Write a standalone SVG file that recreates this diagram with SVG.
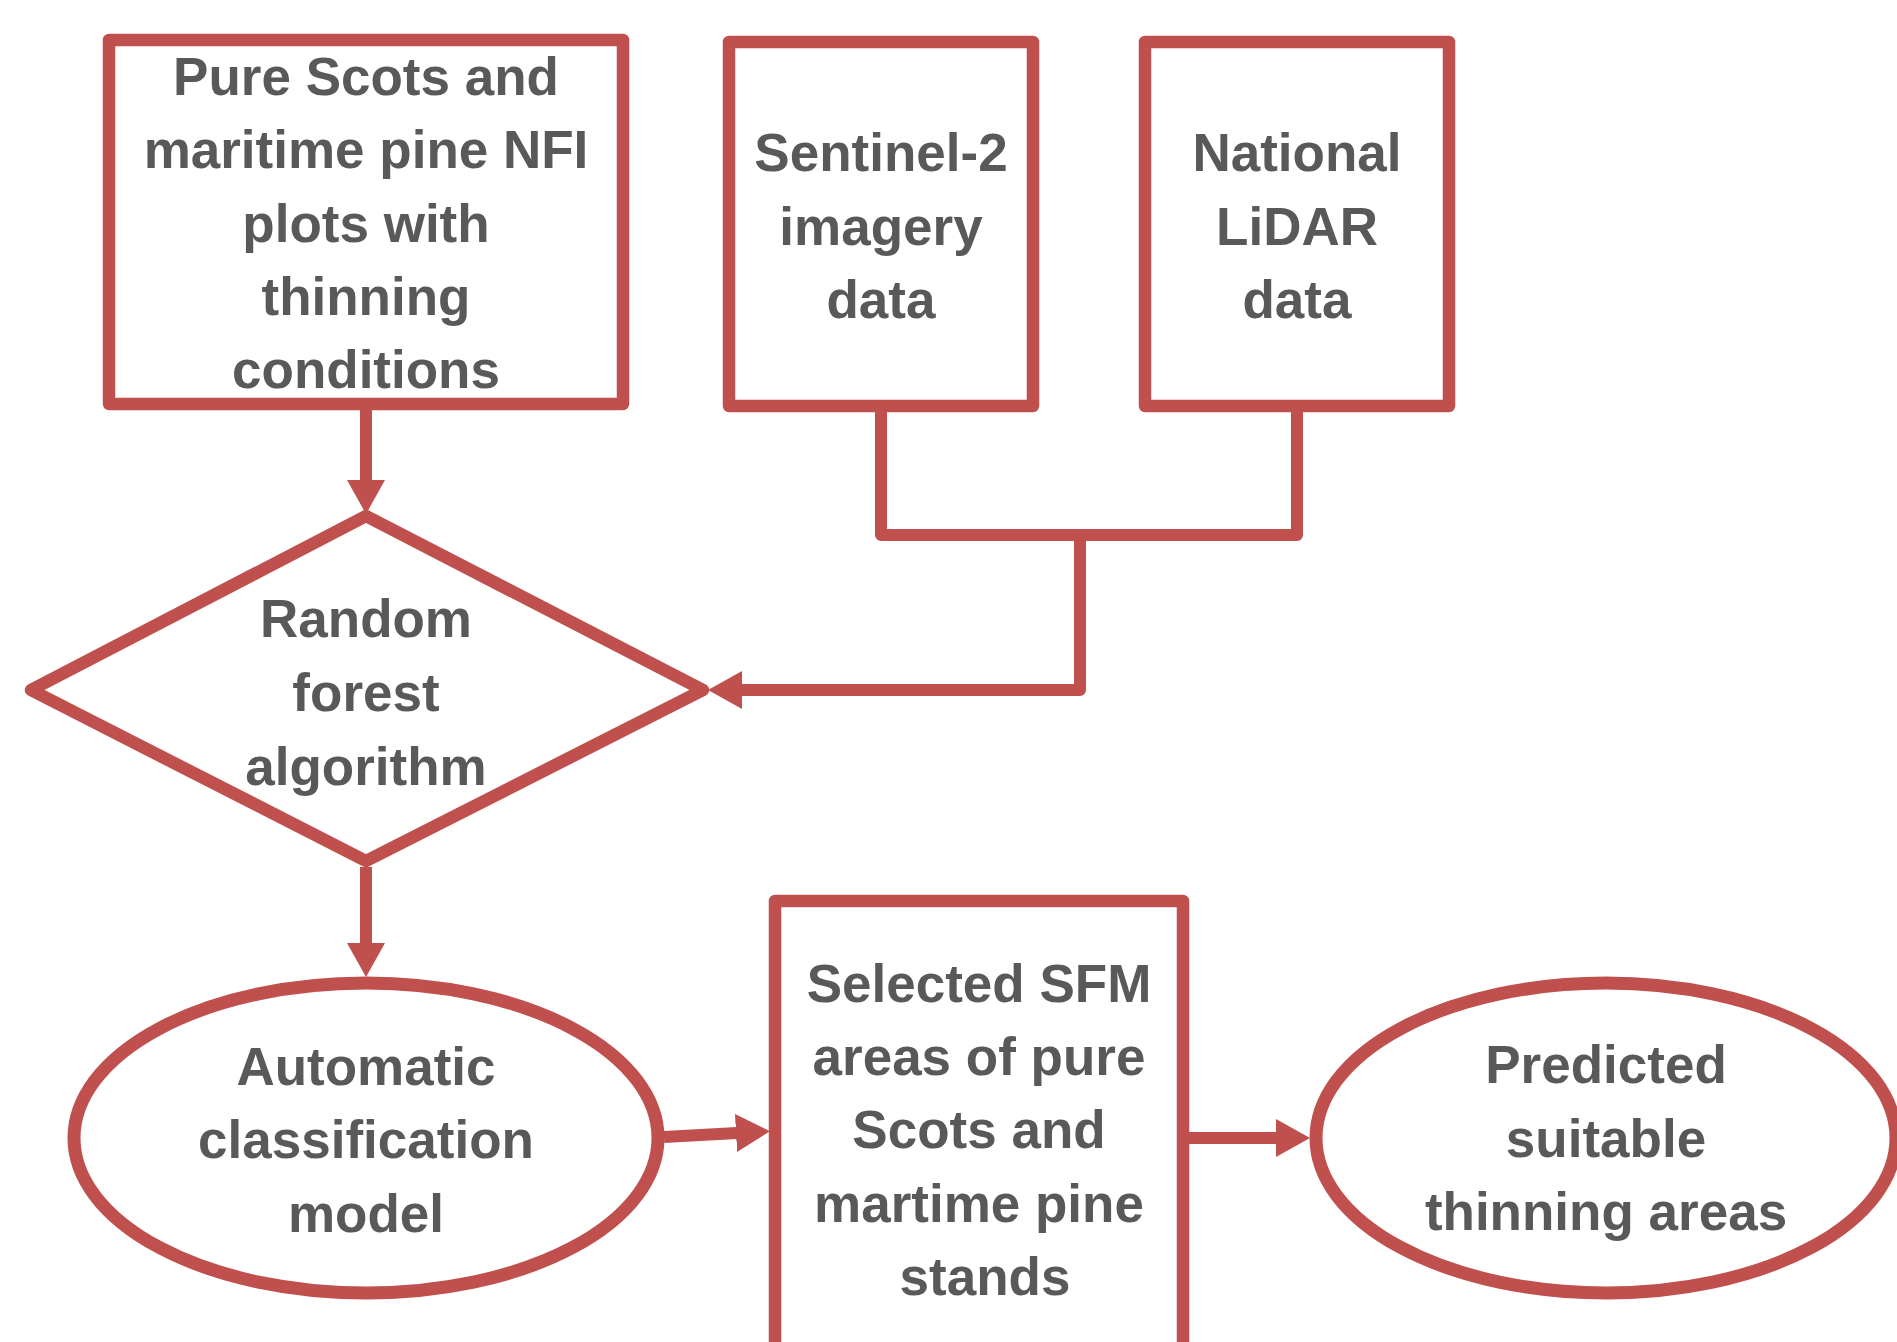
<svg xmlns="http://www.w3.org/2000/svg" width="1897" height="1342" viewBox="0 0 1897 1342">
<style>
.shape{fill:#FFFFFF;stroke:#C0504D;stroke-width:12.5;stroke-linejoin:round}
.dia{fill:#FFFFFF;stroke:#C0504D;stroke-width:12.5;stroke-linejoin:round}
.ell{fill:#FFFFFF;stroke:#C0504D;stroke-width:13}
.conn{fill:none;stroke:#C0504D;stroke-width:12;stroke-linejoin:round;stroke-linecap:butt}
.lbl{font-family:"Liberation Sans",Arial,sans-serif;font-weight:bold;font-size:53px;fill:#595959;text-anchor:middle}
</style>
<defs>
<marker id="ah" viewBox="0 0 34 38" refX="1" refY="19" markerWidth="34" markerHeight="38" markerUnits="userSpaceOnUse" orient="auto">
<path d="M0,0 L34,19 L0,38 Z" fill="#C0504D"/>
</marker>
</defs>
<rect width="1897" height="1342" fill="#FFFFFF"/>
<g id="n1">
<rect class="shape" x="109" y="40" width="514" height="364"/>
<text class="lbl" x="366" y="95">Pure Scots and</text>
<text class="lbl" x="366" y="168">maritime pine NFI</text>
<text class="lbl" x="366" y="242">plots with</text>
<text class="lbl" x="366" y="315">thinning</text>
<text class="lbl" x="366" y="388">conditions</text>
</g>
<g id="n2">
<rect class="shape" x="729" y="42" width="304" height="364"/>
<text class="lbl" x="881" y="171">Sentinel-2</text>
<text class="lbl" x="881" y="245">imagery</text>
<text class="lbl" x="881" y="318">data</text>
</g>
<g id="n3">
<rect class="shape" x="1145" y="42" width="304" height="364"/>
<text class="lbl" x="1297" y="171">National</text>
<text class="lbl" x="1297" y="245">LiDAR</text>
<text class="lbl" x="1297" y="318">data</text>
</g>
<g id="n4">
<polygon class="dia" points="366,516 703,690 366,861 31,690"/>
<text class="lbl" x="366" y="637">Random</text>
<text class="lbl" x="366" y="711">forest</text>
<text class="lbl" x="366" y="785">algorithm</text>
</g>
<g id="n5">
<ellipse class="ell" cx="366" cy="1138" rx="292" ry="155"/>
<text class="lbl" x="366" y="1085">Automatic</text>
<text class="lbl" x="366" y="1158">classification</text>
<text class="lbl" x="366" y="1232">model</text>
</g>
<g id="n6">
<rect class="shape" x="775" y="901" width="408" height="470"/>
<text class="lbl" x="979" y="1002">Selected SFM</text>
<text class="lbl" x="979" y="1075">areas of pure</text>
<text class="lbl" x="979" y="1148">Scots and</text>
<text class="lbl" x="979" y="1222">martime pine</text>
<text class="lbl" x="985" y="1295">stands</text>
</g>
<g id="n7">
<ellipse class="ell" cx="1606" cy="1138" rx="290" ry="155"/>
<text class="lbl" x="1606" y="1083">Predicted</text>
<text class="lbl" x="1606" y="1157">suitable</text>
<text class="lbl" x="1606" y="1230">thinning areas</text>
</g>
<g id="connectors">
<path class="conn" d="M366,410 V481" marker-end="url(#ah)"/>
<path class="conn" d="M881,412 V535 H1297 V412"/>
<path class="conn" d="M1080,535 V690 H741" marker-end="url(#ah)"/>
<path class="conn" d="M366,867 V944" marker-end="url(#ah)"/>
<path class="conn" d="M664,1137 L737,1133" marker-end="url(#ah)"/>
<path class="conn" d="M1189,1138 H1277" marker-end="url(#ah)"/>
</g>
</svg>
